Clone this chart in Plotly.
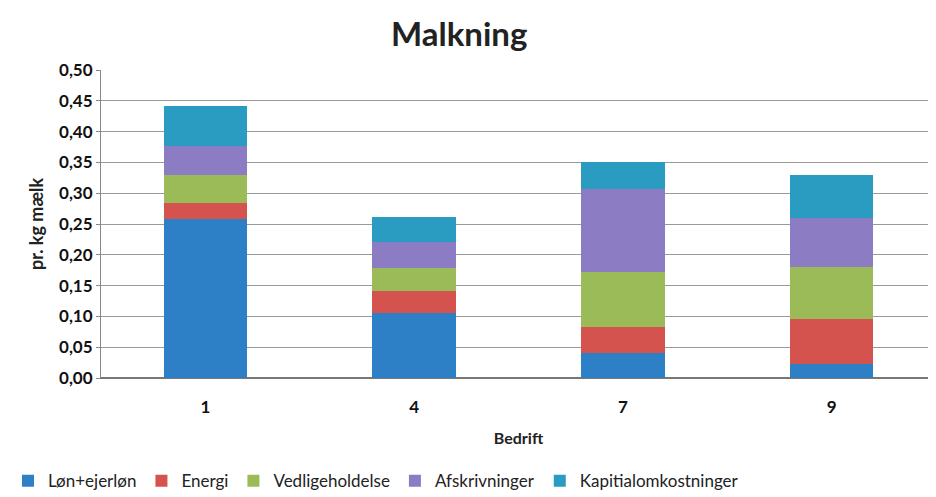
import plotly.graph_objects as go

categories = ["1", "4", "7", "9"]
lon = [0.258, 0.106, 0.040, 0.023]
energi = [0.026, 0.036, 0.042, 0.072]
vedl = [0.046, 0.036, 0.090, 0.085]
afskr = [0.047, 0.042, 0.135, 0.080]
kapital = [0.064, 0.042, 0.043, 0.070]

series = [
    ("Løn+ejerløn", lon, "#2d7fc6"),
    ("Energi", energi, "#d4534e"),
    ("Vedligeholdelse", vedl, "#9bbb59"),
    ("Afskrivninger", afskr, "#8b7cc3"),
    ("Kapitialomkostninger", kapital, "#2a9cc2"),
]

FONT = "Lato, Open Sans, sans-serif"

fig = go.Figure()
for name, vals, col in series:
    fig.add_trace(go.Bar(x=categories, y=vals, name=name, marker_color=col,
                         marker_line_width=0))

fig.update_layout(
    width=936, height=497,
    barmode="stack", bargap=0.6,
    paper_bgcolor="white", plot_bgcolor="white",
    margin=dict(l=93, r=8, t=62, b=127, autoexpand=False),
    font=dict(family=FONT, color="#222"),
    title=dict(text="Malkning", x=0.482, xanchor="center", xref="container",
               y=0.946, yanchor="middle", yref="container",
               font=dict(size=33, family=FONT, color="#222", weight="bold")),
    xaxis=dict(type="category", tickfont=dict(size=17, color="#111", weight="bold"),
               title=dict(text="Bedrift", font=dict(size=16, weight="bold"), standoff=16),
               showline=True, linecolor="#777", ticks="", ticklabelstandoff=14),
    yaxis=dict(range=[0, 0.5], dtick=0.05, tickformat=".2f",
               tickfont=dict(size=17, color="#111", weight="bold"),
               showgrid=True, gridcolor="#9a9a9a", gridwidth=1,
               showline=True, linecolor="#888", linewidth=1,
               ticks="outside", ticklen=4, tickcolor="#888",
               zeroline=True, zerolinecolor="#777",
               title=dict(text="pr. kg mælk", font=dict(size=18, weight="bold"), standoff=10)),
    separators=",.",
    legend=dict(orientation="h", x=0.0, xref="container", xanchor="left",
                y=0.048, yref="container", yanchor="middle",
                font=dict(size=17, color="#222"), itemwidth=30,
                traceorder="normal"),
)

fig.write_html("out.html")
